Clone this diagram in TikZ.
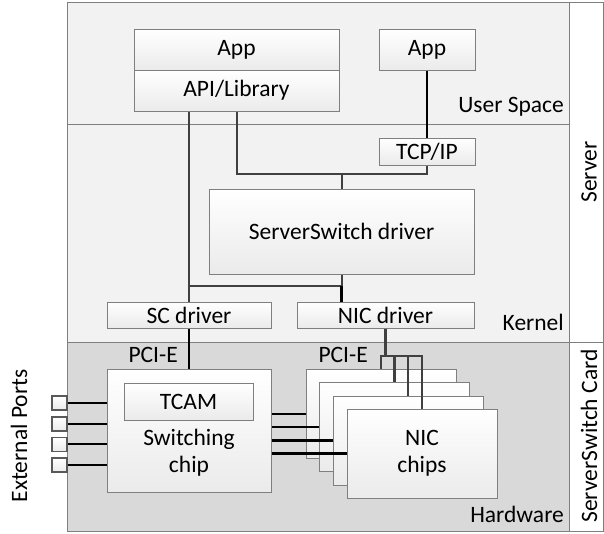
\documentclass[tikz,border=0pt]{standalone}
\usepackage{fontspec}
\setmainfont{Carlito}
\definecolor{layer}{HTML}{F2F2F2}
\definecolor{hwlayer}{HTML}{D9D9D9}
\definecolor{frame}{HTML}{7F7F7F}
\definecolor{wirec}{HTML}{404040}

\begin{document}
\begin{tikzpicture}[x=1pt, y=-1pt,
  every node/.style={font=\fontsize{23.5}{27}\selectfont},
  box/.style={draw=frame, line width=1pt, top color=white, bottom color=black!8, inner sep=0pt, align=center},
  port/.style={box, draw=black!65, line width=1.6pt, minimum width=15pt, minimum height=14pt},
  wire/.style={draw=wirec, line width=2pt},
  bold/.style={draw=black, line width=2.2pt},
  lbl/.style={inner sep=0pt}]
\useasboundingbox (0,0) rectangle (604,533);
\filldraw[fill=layer, draw=frame, line width=1pt] (67,2) rectangle (569,342);
\draw[frame, line width=1pt] (67,124) -- (569,124);
\filldraw[fill=hwlayer, draw=frame, line width=1pt] (67,342) rectangle (569,531);
\filldraw[fill=white, draw=frame, line width=1pt] (569,2) rectangle (603,342);
\filldraw[fill=white, draw=frame, line width=1pt] (569,342) rectangle (603,531);
% user space and kernel
\node[box, minimum width=205pt, minimum height=41pt] (app) at (236.5,49.5) {App};
\node[box, minimum width=205pt, minimum height=41pt] (api) at (236.5,90.5) {API/Library};
\node[box, minimum width=96pt, minimum height=41pt] (app2) at (427,49.5) {App};
\node[box, minimum width=96pt, minimum height=27pt] (tcp) at (427,151.5) {TCP/IP};
\node[box, minimum width=265pt, minimum height=85pt] (ssd) at (341.5,231.5) {ServerSwitch driver};
\node[box, minimum width=164pt, minimum height=26pt] (scdrv) at (189,315) {SC driver};
\node[box, minimum width=177pt, minimum height=26pt] (nicdrv) at (385.5,315) {NIC driver};
% hardware
\node[box, minimum width=164pt, minimum height=123pt] (chip) at (189,430.5) {};
\node[box, minimum width=129pt, minimum height=37pt] (tcam) at (188.5,401.5) {TCAM};
\node[lbl, align=center] (chiplbl) at (189,453) {Switching\\chip};
\foreach \i/\x/\y in {1/381/414, 2/394.5/427, 3/408/440.5}
  \node[box, minimum width=150pt, minimum height=89pt] (nic\i) at (\x,\y) {};
\node[box, minimum width=150pt, minimum height=89pt] (nic4) at (422,453.5) {NIC\\chips};
\foreach \i/\y in {1/403, 2/423.7, 3/444.3, 4/465}{
  \node[port] (p\i) at (59.5,\y) {};
  \draw[bold] (p\i.east) -- (chip.west |- p\i.east);
}
% connectors
\coordinate (top) at (341.5,174);
\coordinate (mid) at (341.5,286);
\coordinate (bus) at (385.5,356);
\draw[wire, line width=1.3pt] (api.south -| scdrv.north) -- (scdrv.north);
\draw[wire] (api.south) |- (top) -| (tcp.south);
\draw[wire] (top) -- (ssd.north);
\draw[bold, line width=2.5pt] (app2.south) -- (tcp.north);
\draw[wire] (ssd.south) -- (mid) -- (mid -| scdrv.north);
\draw[bold] (mid) -- (mid |- nicdrv.north);
\draw[bold] (scdrv.south) -- (chip.north);
\draw[wire, line width=2.5pt] (nicdrv.south) -- (bus);
\draw[wire, line width=2.5pt] (nic1.north) |- (nic4.north |- bus) -- (nic4.north);
\foreach \i in {2,3}
  \draw[wire, line width=2.5pt] (nic\i.north |- bus) -- (nic\i.north);
\foreach \i in {1,...,4}
  \draw[bold] (chip.east |- nic\i.west) -- (nic\i.west);
% labels
\node[lbl, anchor=east] (us) at (564,107) {User Space};
\node[lbl, anchor=east] (kern) at (564,322) {Kernel};
\node[lbl, anchor=east] (hwlbl) at (564,514) {Hardware};
\node[lbl, anchor=east] (pci1) at (178,355) {PCI-E};
\node[lbl, anchor=east] (pci2) at (368,355) {PCI-E};
\node[lbl, rotate=90] (srv) at (589,172) {Server};
\node[lbl, rotate=90] (card) at (589,436) {ServerSwitch Card};
\node[lbl, rotate=90] (ext) at (19,436) {External Ports};
\end{tikzpicture}
\end{document}
